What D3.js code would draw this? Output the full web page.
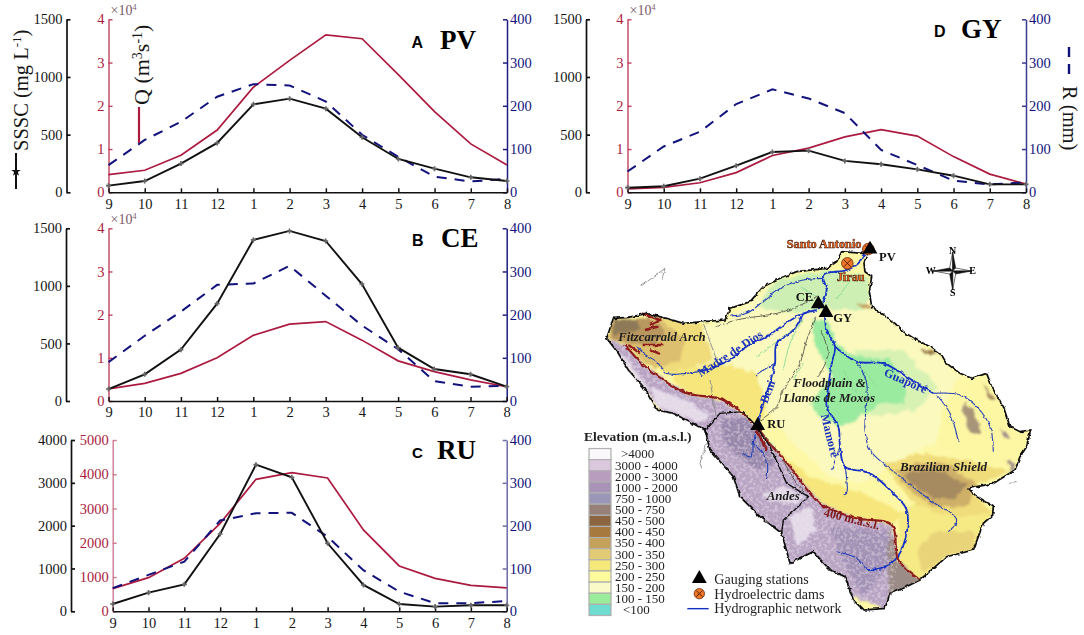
<!DOCTYPE html>
<html lang="en">
<head>
<meta charset="UTF-8">
<title>SSSC, discharge and runoff at four gauging stations</title>
<script src="https://d3js.org/d3.v7.min.js"></script>
<style>
  html, body { margin: 0; padding: 0; background: #fff; }
  svg { display: block; font-family: "Liberation Serif", serif; }
  .tick text { font-family: "Liberation Serif", serif; }
</style>
</head>
<body>
<svg id="chart" width="1084" height="635"></svg>
<script>
'use strict';

const months = ['9', '10', '11', '12', '1', '2', '3', '4', '5', '6', '7', '8'];

// values, Sept -> Aug
const pvSSSC = [58, 98, 249, 428, 763, 812, 725, 477, 289, 205, 130, 98];
const pvQ = [0.41, 0.51, 0.855, 1.44, 2.43, 3.05, 3.64, 3.55, 2.72, 1.865, 1.12, 0.63];
const pvR = [63, 121, 163, 221, 250, 247, 210, 133, 82, 36, 25, 31];

const ceSSSC = [104, 232, 446, 846, 1399, 1477, 1390, 1016, 463, 278, 232, 125];
const ceQ = [0.28, 0.41, 0.64, 1.0, 1.52, 1.78, 1.84, 1.41, 0.93, 0.68, 0.49, 0.33];
const ceR = [90, 151, 207, 269, 272, 313, 244, 175, 120, 46, 33, 35];

const ruSSSC = [171, 436, 630, 1805, 3424, 3128, 1588, 615, 171, 109, 140, 140];
const ruQ = [661, 982, 1547, 2568, 3852, 4047, 3891, 2374, 1323, 963, 759, 681];
const ruR = [54, 85, 116, 212, 229, 230, 174, 96, 46, 19, 19, 24];

const gySSSC = [40, 52, 118, 231, 350, 361, 272, 243, 199, 144, 69, 69];
const gyQ = [0.08, 0.115, 0.22, 0.455, 0.85, 1.02, 1.28, 1.45, 1.30, 0.825, 0.42, 0.19];
const gyR = [48, 106, 140, 204, 238, 217, 183, 98, 63, 27, 18, 23];

const elevationLabels = ['>4000', '3000 - 4000', '2000 - 3000', '1000 - 2000', '750 - 1000', '500 - 750', '450 - 500',
  '400 - 450', '350 - 400', '300 - 350', '250 - 300', '200 - 250', '150 - 200', '100 - 150', '<100'];
const elevationColors = ['#fbf8fb', '#dcc8de', '#b99dbe', '#a892b5', '#9a96b8', '#978077', '#8a6540',
  '#a67a3e', '#c5a25c', '#e3ca75', '#f6e77a', '#fdfb9a', '#fafac8', '#9aeb9a', '#6fdcd0'];

// map geometry, in map units (1/3 px)
const basinOutline = [[895,60],[882,100],[885,125],[905,140],[898,185],[905,230],[935,250],[975,280],[1000,305],[1040,330],[1080,350],[1115,375],[1130,400],[1170,430],[1205,445],[1250,430],[1265,470],[1300,530],[1320,590],[1350,605],[1382,600],[1370,650],[1350,680],[1335,720],[1270,760],[1195,775],[1220,800],[1270,830],[1268,855],[1240,880],[1225,920],[1210,960],[1130,980],[1050,1050],[1000,1075],[960,1090],[945,1135],[880,1140],[850,1110],[825,1040],[780,1020],[730,965],[660,1000],[635,910],[570,860],[510,800],[490,740],[420,660],[405,600],[310,550],[260,540],[220,470],[175,420],[145,370],[110,325],[130,265],[175,262],[230,250],[290,265],[340,280],[400,275],[465,270],[480,235],[540,215],[580,170],[630,145],[680,125],[770,115],[800,95],[815,65],[880,70]];
const beniDivide = [[405,600],[450,550],[520,545],[560,590],[600,650],[650,760],[715,800],[690,825],[640,870],[635,910]];
const line400 = [[165,345],[215,400],[280,450],[350,490],[460,510],[550,580],[590,630],[660,710],[750,820],[860,865],[965,885],[985,990],[1050,1050]];
const andesArea = [[100,320],[165,345],[215,400],[280,450],[350,490],[460,510],[550,580],[590,630],[660,710],[750,820],[860,865],[965,885],[985,990],[960,1140],[700,1050],[400,700]];

const elevationBands = [
  { c: '#fbf9bd', p: [[470,270],[600,165],[780,120],[900,200],[1000,300],[1120,390],[1170,440],[1120,520],[1100,640],[980,690],[880,760],[780,740],[670,640],[600,560],[540,440],[470,400],[380,420],[400,290]] },
  { c: '#fdf7a4', p: [[1120,520],[1240,440],[1300,540],[1380,600],[1335,720],[1200,700],[1100,640]] },
  { c: '#cdefb4', p: [[620,150],[780,120],[890,140],[900,200],[880,240],[760,240],[660,250],[560,230]] },
  { c: '#d8f2b4', p: [[850,360],[1000,360],[1100,470],[1040,540],[900,560]] },
  { c: '#9aeaa0', p: [[725,265],[775,275],[800,340],[860,380],[960,385],[1005,470],[1005,520],[925,520],[860,570],[805,590],[735,545],[720,520],[785,440],[735,340]] },
  { c: '#f6e67c', p: [[295,430],[430,395],[560,430],[590,540],[560,580],[460,510],[350,490]] },
  { c: '#f6e67c', p: [[620,660],[720,740],[880,790],[1000,850],[960,885],[860,865],[750,820]] },
  { c: '#f0dc7a', p: [[110,320],[130,265],[290,265],[395,285],[430,390],[300,430],[215,400],[165,345]] },
  { c: '#dcc070', p: [[115,320],[135,268],[270,265],[345,330],[330,390],[250,420],[180,350]] },
  { c: '#b9985e', p: [[125,275],[240,262],[290,310],[250,350],[190,340],[130,330]] },
  { c: '#8f7a58', p: [[130,268],[195,268],[215,295],[165,310],[130,315]] },
  { c: '#b9a4c4', p: andesArea },
  { c: '#9a88ac', p: [[450,570],[530,560],[620,700],[560,720],[470,650]] },
  { c: '#a492b6', p: [[780,890],[950,900],[960,1000],[880,1100],[820,1000]] },
  { c: '#9c8c88', p: [[958,890],[985,990],[1050,1050],[960,1130],[950,1000]] },
  { c: '#f6ea84', p: [[985,860],[1050,810],[1270,850],[1225,950],[1130,980],[1050,1050],[985,990]] },
  { c: '#e9d47a', p: [[1040,960],[1090,905],[1210,905],[1215,960],[1130,980],[1060,1030]] },
  { c: '#f0dc7a', p: [[940,700],[1050,670],[1190,690],[1320,725],[1200,775],[1265,850],[1170,860],[1090,850],[1010,800]] },
  { c: '#cfb069', p: [[975,725],[1040,700],[1130,700],[1225,770],[1190,830],[1100,830],[1030,790]] },
  { c: '#a68a60', p: [[1000,735],[1040,722],[1110,722],[1190,765],[1160,805],[1090,805],[1040,775]] },
  { c: '#a89478', p: [[1180,515],[1215,545],[1235,610],[1205,610],[1180,560]] },
  { c: '#9d8050', p: [[1050,355],[1100,365],[1100,375],[1060,375]] },
  { c: '#a68a60', p: [[1240,460],[1280,510],[1260,510]] },
  { c: '#c5a25c', p: [[860,215],[905,230],[880,240]] },
  { c: '#9d8c88', p: [[1290,590],[1320,620],[1300,620]] },
  { c: '#9d8c88', p: [[1310,690],[1340,700],[1320,730]] }
];
const snowPatches = [
  [[240,470],[330,500],[420,555],[400,580],[330,555],[260,530]],
  [[580,790],[650,770],[710,800],[680,820],[600,815]],
  [[660,860],[720,830],[740,900],[680,950]],
  [[130,350],[180,400],[240,480],[210,470],[160,420]]
];

const mainRivers = [
  [[895,60],[880,75],[865,100],[830,120],[760,135],[770,180],[760,215],[745,235]],
  [[740,240],[690,255],[640,285],[590,320],[530,350],[480,390],[420,415],[390,425]],
  [[700,250],[670,300],[620,340],[615,400],[600,460],[580,520],[562,590]],
  [[765,260],[770,300],[795,350],[785,400],[775,470],[770,530],[805,590],[810,650],[825,710],[900,730],[970,790],[1010,840],[1005,930],[975,990],[930,1015],[890,1020]],
  [[795,350],[860,395],[940,400],[1010,440],[1090,490]]
];
const thinRivers = [
  [[760,145],[700,150],[640,170],[590,205],[530,250],[480,258]],
  [[390,425],[350,430],[290,430],[260,395],[220,370],[200,345]],
  [[562,590],[550,640],[545,680],[515,670]],
  [[550,640],[590,690],[590,750]],
  [[825,710],[830,790],[820,795]],
  [[810,650],[785,720]],
  [[890,1020],[860,985],[800,965]],
  [[1090,490],[1170,495],[1220,530],[1260,590],[1270,665]],
  [[1100,495],[1140,550],[1165,635]],
  [[860,395],[890,460],[885,600],[900,660],[990,740],[1080,810],[1160,870],[1135,905]],
  [[615,400],[555,435]]
];
const greyRivers = [
  [[740,260],[710,330],[690,400],[640,480],[620,530],[565,575]],
  [[750,300],[775,370],[745,440]],
  [[745,200],[640,245],[500,270],[440,290]],
  [[560,590],[620,660],[680,760],[715,800]]
];
const greenCreeks = [
  [[700,265],[660,340],[640,420]],
  [[680,290],[600,350],[560,380]],
  [[690,170],[740,200]],
  [[840,150],[800,210]],
  [[880,420],[920,470]],
  [[820,420],[860,490]],
  [[700,400],[670,450]]
];
const strayLines = [
  [[210,170],[245,145],[285,115],[275,150]],
  [[410,640],[390,700],[395,715]],
  [[400,280],[440,390]],
  [[420,450],[440,570]],
  [[1318,757],[1340,755]]
];
const redArches = [
  [[215,250],[270,270],[240,285]],
  [[265,290],[225,300]],
  [[175,345],[210,370]],
  [[215,345],[280,345]],
  [[240,360],[270,372]],
  [[330,480],[370,495]],
  [[455,505],[490,530]],
  [[560,600],[590,660]]
];
const stations = [
  { name: 'CE', at: [745,222], label: [677,212] },
  { name: 'GY', at: [768,248], label: [790,275] },
  { name: 'RU', at: [563,587], label: [592,593] },
  { name: 'PV', at: [900,58], label: [927,92] }
];
const dams = [[832,100], [895,57]];
const damNames = [
  { name: 'Santo Antonio', at: [650,53] },
  { name: 'Jirau', at: [800,152] }
];
const italicLabels = [
  { t: 'Fitzcarrald Arch', at: [145,332], s: 12.7 },
  { t: 'Floodplain &', at: [670,470], s: 13 },
  { t: 'Llanos de Moxos', at: [640,516], s: 13 },
  { t: 'Andes', at: [590,810], s: 13 },
  { t: 'Brazilian Shield', at: [990,724], s: 13 }
];
const riverLabels = [
  { t: 'Madre de Dios', at: [392,442], a: -33, c: '#1b33b8' },
  { t: 'Beni', at: [592,522], a: -70, c: '#1b33b8' },
  { t: 'Guaporé', at: [940,436], a: 24, c: '#1b33b8' },
  { t: 'Mamoré', at: [752,556], a: 76, c: '#1b33b8' },
  { t: '400 m.a.s.l.', at: [760,858], a: 14, c: '#7e1a1a' }
];

const svg = d3.select('#chart');
const BLACK = '#111', RED = '#ac1a40', BLUE = '#12127c';

const starMark = d3.symbol().type(d3.symbolCross).size(14);

function drawPanel(o) {
  const g = svg.append('g');
  const x = d3.scalePoint().domain(months).range([o.x0, o.x1]);
  const yS = d3.scaleLinear().domain([0, o.sMax]).range([o.yB, o.yT]);
  const yQ = d3.scaleLinear().domain([0, o.qMax]).range([o.yB, o.yT]);
  const yR = d3.scaleLinear().domain([0, 400]).range([o.yB, o.yT]);

  const sAxis = g.append('g').attr('transform', `translate(${o.xS},0)`)
    .call(d3.axisLeft(yS).tickValues(o.sTicks).tickFormat(d3.format('d')).tickSizeInner(-4).tickSizeOuter(0).tickPadding(4));
  const qAxis = g.append('g').attr('transform', `translate(${o.x0},0)`)
    .call(d3.axisLeft(yQ).tickValues(o.qTicks).tickFormat(d3.format('d')).tickSizeInner(-4).tickSizeOuter(0).tickPadding(4));
  const rAxis = g.append('g').attr('transform', `translate(${o.x1},0)`)
    .call(d3.axisRight(yR).tickValues([0, 100, 200, 300, 400]).tickSizeInner(-4).tickSizeOuter(0).tickPadding(3));
  const xAxis = g.append('g').attr('transform', `translate(0,${o.yB})`)
    .call(d3.axisBottom(x).tickSizeInner(-4).tickSizeOuter(0).tickPadding(6));

  [[sAxis, BLACK, 1.7], [qAxis, o.axisRed || '#c2425f', 1.4], [rAxis, o.axisBlue || '#1c1c80', 1.5], [xAxis, BLACK, 1.5]].forEach(([a, c, w]) => {
    a.selectAll('path, line').attr('stroke', c).attr('stroke-width', w);
    a.selectAll('text').attr('font-size', 14.5).attr('fill', c === BLACK ? '#161616' : (a === qAxis ? RED : BLUE));
  });

  const line = yy => d3.line().x((d, i) => x(months[i])).y(d => yy(d));
  g.append('path').datum(o.q).attr('d', line(yQ)).attr('fill', 'none').attr('stroke', RED).attr('stroke-width', 1.7);
  g.append('path').datum(o.r).attr('d', line(yR)).attr('fill', 'none').attr('stroke', BLUE).attr('stroke-width', 2).attr('stroke-dasharray', '10,8');
  g.append('path').datum(o.s).attr('d', line(yS)).attr('fill', 'none').attr('stroke', BLACK).attr('stroke-width', 1.9);
  g.selectAll('path.star').data(o.s).join('path').attr('class', 'star')
    .attr('transform', (d, i) => `translate(${x(months[i])},${yS(d)})`)
    .attr('d', starMark).attr('fill', '#666');

  if (o.exp) {
    const e = g.append('text').attr('x', o.x0 + 2).attr('y', o.yT - 4).attr('font-size', 14).attr('fill', '#7a5a68');
    e.append('tspan').text('×10');
    e.append('tspan').attr('dy', -5).attr('font-size', 8).text('4');
  }
  g.append('text').attr('x', o.letterX).attr('y', o.letterY).attr('font-family', 'Liberation Sans').attr('font-weight', 700)
    .attr('font-size', o.letterSize || 16).text(o.letter);
  g.append('text').attr('x', o.nameX).attr('y', o.nameY).attr('font-weight', 700).attr('font-size', 27).text(o.name);
}

drawPanel({ x0: 108.5, x1: 507, xS: 66.5, yT: 19.3, yB: 192.3, sMax: 1500, qMax: 4, sTicks: [0, 500, 1000, 1500], qTicks: [0, 1, 2, 3, 4],
  s: pvSSSC, q: pvQ, r: pvR, exp: true, letter: 'A', letterX: 411.5, letterY: 48, name: 'PV', nameX: 440, nameY: 49 });
drawPanel({ x0: 108.5, x1: 506.7, xS: 66, yT: 228.3, yB: 401, sMax: 1500, qMax: 4, sTicks: [0, 500, 1000, 1500], qTicks: [0, 1, 2, 3, 4],
  s: ceSSSC, q: ceQ, r: ceR, exp: true, letter: 'B', letterX: 412, letterY: 246, name: 'CE', nameX: 441, nameY: 247 });
drawPanel({ x0: 112.7, x1: 506.7, xS: 71, yT: 440, yB: 611.3, sMax: 4000, qMax: 5000, sTicks: [0, 1000, 2000, 3000, 4000], qTicks: [0, 1000, 2000, 3000, 4000, 5000],
  s: ruSSSC, q: ruQ, r: ruR, axisRed: '#cf7a92', axisBlue: '#6a6aa8', letter: 'C', letterX: 412, letterY: 458, letterSize: 15, name: 'RU', nameX: 437, nameY: 459 });
drawPanel({ x0: 627.5, x1: 1026, xS: 586, yT: 19.3, yB: 192.3, sMax: 1500, qMax: 4, sTicks: [0, 500, 1000, 1500], qTicks: [0, 1, 2, 3, 4],
  s: gySSSC, q: gyQ, r: gyR, exp: true, axisBlue: '#3a3a90', letter: 'D', letterX: 934, letterY: 37, name: 'GY', nameX: 961, nameY: 38 });

// axis titles with their line keys
function rotated(x, y, angle, size) {
  return svg.append('text').attr('transform', `translate(${x},${y}) rotate(${angle})`).attr('font-size', size).attr('fill', '#161616');
}
function sup(t, s, size) {
  t.append('tspan').attr('dy', -7).attr('font-size', size).text(s);
}

let t = rotated(28, 151, -90, 20.5);
t.append('tspan').text('SSSC (mg L');
sup(t, '-1', 13);
t.append('tspan').attr('dy', 7).text(')');
svg.append('line').attr('x1', 16).attr('x2', 16).attr('y1', 153).attr('y2', 189).attr('stroke', BLACK).attr('stroke-width', 2);
svg.append('path').attr('transform', 'translate(16,171.5)').attr('d', d3.symbol().type(d3.symbolStar).size(30)).attr('fill', BLACK);

t = rotated(149, 105, -90, 22);
t.append('tspan').text('Q (m');
sup(t, '3', 14);
t.append('tspan').attr('dy', 7).text('s');
sup(t, '-1', 14);
t.append('tspan').attr('dy', 7).text(')');
svg.append('line').attr('x1', 139).attr('x2', 139).attr('y1', 107).attr('y2', 143).attr('stroke', RED).attr('stroke-width', 2.2);

rotated(1063, 86, 90, 20.5).text('R (mm)');
[[47, 57], [64, 74]].forEach(d => {
  svg.append('line').attr('x1', 1069).attr('x2', 1069).attr('y1', d[0]).attr('y2', d[1]).attr('stroke', BLUE).attr('stroke-width', 2.4);
});

// map
const mapX = d3.scaleLinear().domain([0, 1542]).range([570, 1084]);
const mapY = d3.scaleLinear().domain([0, 1215]).range([230, 635]);
const mapLine = d3.line().x(d => mapX(d[0])).y(d => mapY(d[1]));
const smooth = d3.line().x(d => mapX(d[0])).y(d => mapY(d[1])).curve(d3.curveCatmullRom);

const defs = svg.append('defs');
defs.append('clipPath').attr('id', 'basinClip').append('path').attr('d', mapLine(basinOutline) + 'Z');
const rough = defs.append('filter').attr('id', 'rough').attr('x', '-5%').attr('y', '-5%').attr('width', '110%').attr('height', '110%');
rough.append('feTurbulence').attr('type', 'fractalNoise').attr('baseFrequency', 0.14).attr('numOctaves', 3).attr('seed', 4).attr('result', 'n');
rough.append('feDisplacementMap').attr('in', 'SourceGraphic').attr('in2', 'n').attr('scale', 7).attr('xChannelSelector', 'R').attr('yChannelSelector', 'G').attr('result', 'd');
rough.append('feGaussianBlur').attr('in', 'd').attr('stdDeviation', 1.3);
const wobble = defs.append('filter').attr('id', 'wobble').attr('x', '-5%').attr('y', '-5%').attr('width', '110%').attr('height', '110%');
wobble.append('feTurbulence').attr('type', 'fractalNoise').attr('baseFrequency', 0.2).attr('numOctaves', 2).attr('seed', 9).attr('result', 'n');
wobble.append('feDisplacementMap').attr('in', 'SourceGraphic').attr('in2', 'n').attr('scale', 3.5).attr('xChannelSelector', 'R').attr('yChannelSelector', 'G');
// light speckle for the high ground
const speckle = defs.append('filter').attr('id', 'speckle').attr('x', '0').attr('y', '0').attr('width', '100%').attr('height', '100%');
speckle.append('feTurbulence').attr('type', 'fractalNoise').attr('baseFrequency', 0.32).attr('numOctaves', 2).attr('seed', 21).attr('result', 'n');
speckle.append('feColorMatrix').attr('in', 'n').attr('type', 'matrix')
  .attr('values', '0 0 0 0 1  0 0 0 0 1  0 0 0 0 1  5 0 0 0 -2.3').attr('result', 'a');
speckle.append('feComposite').attr('in', 'a').attr('in2', 'SourceAlpha').attr('operator', 'in').attr('result', 'c');
speckle.append('feGaussianBlur').attr('in', 'c').attr('stdDeviation', 0.5);

const map = svg.append('g');
map.append('path').attr('d', mapLine(basinOutline) + 'Z').attr('fill', '#fdf8a6');
const clipped = map.append('g').attr('clip-path', 'url(#basinClip)');
const bands = clipped.append('g').attr('filter', 'url(#rough)');
bands.selectAll('path').data(elevationBands).join('path').attr('d', d => mapLine(d.p) + 'Z').attr('fill', d => d.c);
clipped.append('path').attr('d', mapLine(andesArea) + 'Z').attr('fill', '#000').attr('filter', 'url(#speckle)').attr('opacity', 0.3);
clipped.append('g').attr('filter', 'url(#rough)').selectAll('path').data(snowPatches).join('path')
  .attr('d', d => mapLine(d) + 'Z').attr('fill', '#eee6f0').attr('opacity', 0.8);

const lines = map.append('g').attr('fill', 'none').attr('filter', 'url(#wobble)');
lines.selectAll('path.stray').data(strayLines).join('path').attr('class', 'stray').attr('d', mapLine).attr('stroke', '#8a8a8a').attr('stroke-width', 0.9);
lines.selectAll('path.creek').data(greenCreeks).join('path').attr('class', 'creek').attr('d', smooth).attr('stroke', '#8fdc9a').attr('stroke-width', 1);
lines.selectAll('path.grey').data(greyRivers).join('path').attr('class', 'grey').attr('d', smooth).attr('stroke', '#55554c').attr('stroke-width', 0.9);
lines.selectAll('path.thin').data(thinRivers).join('path').attr('class', 'thin').attr('d', smooth).attr('stroke', '#2440b4').attr('stroke-width', 1.1);
lines.selectAll('path.main').data(mainRivers).join('path').attr('class', 'main').attr('d', smooth).attr('stroke', '#1430c4').attr('stroke-width', 1.8);
lines.append('path').attr('d', smooth(line400)).attr('stroke', '#8e1b1b').attr('stroke-width', 2.1);
lines.selectAll('path.arch').data(redArches).join('path').attr('class', 'arch').attr('d', mapLine).attr('stroke', '#8e1b1b').attr('stroke-width', 2.4);
lines.append('path').attr('d', mapLine(basinOutline) + 'Z').attr('stroke', '#0c0c0c').attr('stroke-width', 1.7);
lines.append('path').attr('d', mapLine(beniDivide)).attr('stroke', '#0c0c0c').attr('stroke-width', 1.4);

// dams and stations
const triangle = d3.symbol().type(d3.symbolTriangle).size(95);
function damMark(g, x, y, r) {
  g.append('circle').attr('cx', x).attr('cy', y).attr('r', r).attr('fill', '#ee7426').attr('stroke', '#6a2a0a').attr('stroke-width', 0.8);
  const k = r * 0.6;
  [[-k, -k, k, k], [-k, k, k, -k]].forEach(c => {
    g.append('line').attr('x1', x + c[0]).attr('y1', y + c[1]).attr('x2', x + c[2]).attr('y2', y + c[3]).attr('stroke', '#4a1a06').attr('stroke-width', 0.9);
  });
}
dams.forEach(d => damMark(svg, mapX(d[0]), mapY(d[1]), 5.8));
svg.selectAll('path.station').data(stations).join('path').attr('class', 'station')
  .attr('transform', d => `translate(${mapX(d.at[0])},${mapY(d.at[1])})`).attr('d', triangle).attr('fill', '#000');
svg.selectAll('text.station').data(stations).join('text').attr('class', 'station')
  .attr('x', d => mapX(d.label[0])).attr('y', d => mapY(d.label[1])).attr('font-weight', 700).attr('font-size', 12.5).attr('fill', '#111').text(d => d.name);
svg.selectAll('text.dam').data(damNames).join('text').attr('class', 'dam')
  .attr('x', d => mapX(d.at[0])).attr('y', d => mapY(d.at[1])).attr('font-weight', 700).attr('font-size', 12.3)
  .attr('fill', '#f2661c').attr('stroke', '#3a1608').attr('stroke-width', 0.5).text(d => d.name);

svg.selectAll('text.place').data(italicLabels).join('text').attr('class', 'place')
  .attr('x', d => mapX(d.at[0])).attr('y', d => mapY(d.at[1])).attr('font-weight', 700).attr('font-style', 'italic').attr('font-size', d => d.s)
  .attr('fill', '#1c1c1c').text(d => d.t);
svg.selectAll('text.river').data(riverLabels).join('text').attr('class', 'river')
  .attr('transform', d => `translate(${mapX(d.at[0])},${mapY(d.at[1])}) rotate(${d.a})`)
  .attr('font-weight', 700).attr('font-size', 12).attr('fill', d => d.c).text(d => d.t);

// compass
const cx = mapX(1148), cy = mapY(123);
const compass = svg.append('g').attr('transform', `translate(${cx},${cy})`);
[0, 90, 180, 270].forEach(a => {
  const arm = compass.append('g').attr('transform', `rotate(${a})`);
  arm.append('path').attr('d', 'M0,0L-3,-3L0,-19Z').attr('fill', '#fff').attr('stroke', '#111').attr('stroke-width', 0.6);
  arm.append('path').attr('d', 'M0,0L3,-3L0,-19Z').attr('fill', '#111').attr('stroke', '#111').attr('stroke-width', 0.6);
});
[['N', 0, -17.5], ['S', 0, 24.5], ['W', -22, 2.5], ['E', 20, 3]].forEach(d => {
  svg.append('text').attr('x', cx + d[1]).attr('y', cy + d[2]).attr('text-anchor', 'middle').attr('font-weight', 700).attr('font-size', 10).text(d[0]);
});

// elevation legend
svg.append('text').attr('x', 584).attr('y', 441).attr('font-weight', 700).attr('font-size', 13.5).attr('fill', '#222').text('Elevation (m.a.s.l.)');
const rowY = d3.scaleBand().domain(elevationLabels).range([448.5, 615.5]);
svg.selectAll('rect.swatch').data(elevationLabels).join('rect').attr('class', 'swatch')
  .attr('x', 589).attr('y', d => rowY(d)).attr('width', 22).attr('height', rowY.bandwidth())
  .attr('fill', (d, i) => elevationColors[i]).attr('stroke', '#b0b0b0').attr('stroke-width', 1.2);
svg.selectAll('text.swatch').data(elevationLabels).join('text').attr('class', 'swatch')
  .attr('x', d => (d === '>4000' ? 621 : d === '<100' ? 623 : 615)).attr('y', d => rowY(d) + rowY.bandwidth() / 2 + 4.3)
  .attr('font-size', 13).attr('fill', '#222').text(d => d);

// symbol legend
svg.append('path').attr('transform', `translate(${mapX(388)},${mapY(1046)})`).attr('d', triangle).attr('fill', '#000');
damMark(svg, mapX(388), mapY(1091), 5.2);
svg.append('line').attr('x1', mapX(352)).attr('x2', mapX(416)).attr('y1', mapY(1136)).attr('y2', mapY(1136)).attr('stroke', '#1430c4').attr('stroke-width', 1.4);
[['Gauging stations', 1062], ['Hydroelectric dams', 1106], ['Hydrographic network', 1150]].forEach(d => {
  svg.append('text').attr('x', mapX(433)).attr('y', mapY(d[1])).attr('font-size', 14).attr('fill', '#222').text(d[0]);
});
</script>
</body>
</html>
